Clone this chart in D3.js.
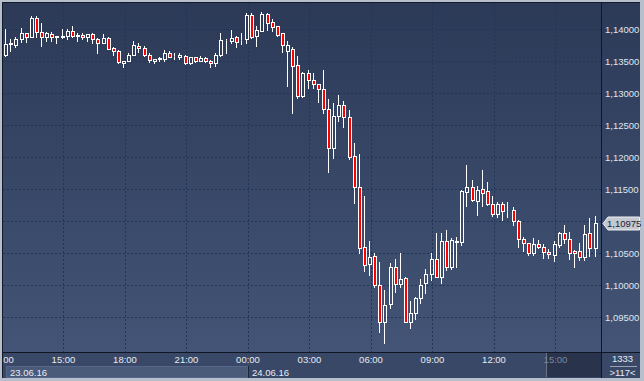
<!DOCTYPE html>
<html><head><meta charset="utf-8">
<script src="https://cdn.jsdelivr.net/npm/d3@7"></script>
<style>html,body{margin:0;padding:0;background:#2e3b57;overflow:hidden}svg{display:block}</style>
</head><body><svg id="c" width="644" height="381"></svg>
<script>
// ---------- data ----------
const startTime = "2016-06-23T12:00:00Z";   // first M15 bar
const barMinutes = 15;
const opens = [1.13492,1.13602,1.13773,1.13758,1.13852,1.13945,1.13883,1.14180,1.13961,1.13883,
1.13930,1.13883,1.13883,1.13898,1.13977,1.13898,1.13914,1.13883,1.13930,1.13852,
1.13789,1.13867,1.13711,1.13664,1.13477,1.13508,1.13602,1.13742,1.13711,1.13602,
1.13508,1.13539,1.13539,1.13633,1.13586,1.13570,1.13586,1.13477,1.13570,1.13508,
1.13555,1.13508,1.13477,1.13602,1.13836,1.13820,1.13883,1.13836,1.13852,1.14227,
1.13898,1.13977,1.14242,1.14117,1.14055,1.13945,1.13664,1.13695,1.13445,1.12961,
1.13320,1.13211,1.13148,1.13070,1.12758,1.12148,1.12648,1.12820,1.12633,1.12023,
1.11539,1.10602,1.10336,1.10461,1.10008,1.09430,1.09711,1.10289,1.10023,1.10117,
1.09430,1.09570,1.09805,1.10039,1.10180,1.10414,1.10133,1.10695,1.10289,1.10695,
1.10680,1.11461,1.11539,1.11320,1.11508,1.11477,1.11273,1.11117,1.11273,1.11164,
1.11180,1.11008,1.10727,1.10664,1.10508,1.10648,1.10602,1.10523,1.10477,1.10633,
1.10820,1.10727,1.10539,1.10539,1.10445,1.10820,1.10586];
const highs = [1.13617,1.14008,1.13852,1.13883,1.14023,1.13945,1.14211,1.14211,1.14102,1.13961,
1.13961,1.13898,1.14008,1.14008,1.14055,1.13945,1.13945,1.13930,1.13945,1.13867,
1.13930,1.13883,1.13727,1.13680,1.13508,1.13633,1.13820,1.13789,1.13742,1.13633,
1.13539,1.13570,1.13680,1.13664,1.13633,1.13633,1.13602,1.13570,1.13570,1.13586,
1.13570,1.13523,1.13633,1.13945,1.13852,1.13992,1.13898,1.13945,1.14258,1.14258,
1.14055,1.14273,1.14258,1.14164,1.14055,1.13945,1.13820,1.13727,1.13586,1.13336,
1.13367,1.13320,1.13148,1.13367,1.12914,1.12852,1.12977,1.12883,1.12742,1.12227,
1.12055,1.11398,1.10695,1.10508,1.10367,1.09930,1.10352,1.10414,1.10508,1.10133,
1.09758,1.09820,1.10102,1.10258,1.10508,1.10820,1.10820,1.10867,1.10742,1.10758,
1.11492,1.11883,1.11648,1.11555,1.11805,1.11617,1.11398,1.11305,1.11305,1.11305,
1.11227,1.11023,1.10758,1.10664,1.10742,1.10711,1.10648,1.10570,1.10695,1.10836,
1.10945,1.10836,1.10555,1.10664,1.10945,1.11055,1.11086];
const lows = [1.13477,1.13586,1.13664,1.13727,1.13805,1.13805,1.13883,1.13883,1.13742,1.13820,
1.13820,1.13789,1.13867,1.13852,1.13883,1.13820,1.13852,1.13820,1.13789,1.13633,
1.13789,1.13695,1.13602,1.13477,1.13414,1.13508,1.13602,1.13648,1.13586,1.13492,
1.13477,1.13508,1.13508,1.13570,1.13539,1.13539,1.13461,1.13461,1.13492,1.13508,
1.13492,1.13414,1.13430,1.13586,1.13633,1.13789,1.13727,1.13773,1.13789,1.13867,
1.13742,1.13977,1.13992,1.13977,1.13898,1.13648,1.13117,1.12695,1.12930,1.12945,
1.13086,1.13086,1.12867,1.12695,1.11773,1.11992,1.12570,1.12477,1.11977,1.11289,
1.10508,1.10227,1.10164,1.09977,1.09273,1.09102,1.09648,1.09898,1.09977,1.09430,
1.09336,1.09477,1.09727,1.09883,1.10086,1.10133,1.10039,1.10242,1.10258,1.10289,
1.10633,1.11242,1.11320,1.11102,1.11242,1.11258,1.11086,1.11070,1.11023,1.11070,
1.10945,1.10602,1.10539,1.10477,1.10477,1.10586,1.10430,1.10430,1.10383,1.10602,
1.10664,1.10414,1.10289,1.10398,1.10398,1.10461,1.10461];
const closes = [1.13602,1.13773,1.13789,1.13852,1.13945,1.13883,1.14180,1.13961,1.13883,1.13945,
1.13883,1.13898,1.13898,1.13977,1.13898,1.13914,1.13883,1.13930,1.13852,1.13789,
1.13867,1.13695,1.13664,1.13492,1.13508,1.13602,1.13758,1.13711,1.13602,1.13523,
1.13539,1.13555,1.13633,1.13570,1.13586,1.13602,1.13477,1.13570,1.13508,1.13555,
1.13508,1.13477,1.13602,1.13836,1.13836,1.13867,1.13805,1.13836,1.14227,1.13883,
1.13992,1.14242,1.14102,1.14039,1.13914,1.13758,1.13758,1.13430,1.12961,1.13320,
1.13211,1.13148,1.13070,1.12758,1.12148,1.12648,1.12820,1.12633,1.12008,1.11539,
1.10586,1.10320,1.10445,1.10008,1.09430,1.09695,1.10289,1.10023,1.10102,1.09430,
1.09570,1.09805,1.10008,1.10180,1.10414,1.10133,1.10695,1.10289,1.10711,1.10672,
1.11477,1.11539,1.11336,1.11492,1.11445,1.11273,1.11117,1.11273,1.11164,1.11164,
1.11008,1.10727,1.10664,1.10508,1.10648,1.10602,1.10523,1.10492,1.10648,1.10820,
1.10727,1.10508,1.10508,1.10445,1.10805,1.10586,1.10975];
const priceTicks = [1.095,1.100,1.105,1.110,1.115,1.120,1.125,1.130,1.135,1.140];
const lastPrice = 1.10975;
const footerTop = "1333";
const footerBottom = ">117<";

// ---------- layout ----------
const W = 644, H = 381;
const P = {l:3, t:3, r:601, b:352};     // plot area
const axisRight = 640, axisBottom = 378;
const FONT = "'Liberation Sans', Arial, sans-serif";

const t0 = new Date(startTime);
const times = opens.map((_, i) => new Date(t0.getTime() + i * barMinutes * 60000));
const data = opens.map((o, i) => ({t: times[i], o, h: highs[i], l: lows[i], c: closes[i]}));

const x = d3.scaleUtc().domain([times[0], times[times.length - 1]]).range([1.5, 596]);
const y = d3.scaleLinear().domain([1.14, 1.095]).range([29.5, 317.5]);

const svg = d3.select("#c");
const defs = svg.append("defs");
const grad = defs.append("linearGradient").attr("id", "bg").attr("x1", 0).attr("y1", 0).attr("x2", 0).attr("y2", 1);
grad.append("stop").attr("offset", "0%").attr("stop-color", "#2c3a57");
grad.append("stop").attr("offset", "100%").attr("stop-color", "#435476");
defs.append("clipPath").attr("id", "plotClip").append("rect")
  .attr("x", P.l).attr("y", P.t).attr("width", P.r - P.l).attr("height", P.b - P.t);
defs.append("clipPath").attr("id", "timeClip").append("rect")
  .attr("x", P.l).attr("y", P.b).attr("width", P.r - P.l).attr("height", axisBottom - P.b);

// outer frame
svg.append("rect").attr("width", W).attr("height", H).attr("fill", "#b7bfcc");
svg.append("rect").attr("x", 2).attr("y", 2).attr("width", axisRight - 2).attr("height", axisBottom - 2).attr("fill", "#131b2b");
// plot + price axis background
svg.append("rect").attr("x", P.l).attr("y", P.t).attr("width", axisRight - P.l).attr("height", P.b - P.t).attr("fill", "url(#bg)");
// time axis strip
svg.append("rect").attr("x", P.l).attr("y", P.b + 1).attr("width", axisRight - P.l).attr("height", axisBottom - P.b - 1).attr("fill", "#3a4867");

// grid
const grid = svg.append("g").attr("clip-path", "url(#plotClip)");
const hourTicks = x.ticks(d3.utcHour.every(3));
grid.selectAll("line.v").data(hourTicks).join("line")
  .attr("x1", d => Math.round(x(d)) + 0.5).attr("x2", d => Math.round(x(d)) + 0.5)
  .attr("y1", P.t).attr("y2", P.b)
  .attr("stroke", "#203659").attr("stroke-dasharray", "2,2");
grid.selectAll("line.h").data(priceTicks).join("line")
  .attr("x1", P.l).attr("x2", P.r)
  .attr("y1", d => Math.round(y(d) - 0.5) + 0.5).attr("y2", d => Math.round(y(d) - 0.5) + 0.5)
  .attr("stroke", "#203659").attr("stroke-dasharray", "2,2");

// candles
const cg = svg.append("g").attr("clip-path", "url(#plotClip)");
data.forEach(d => {
  const c = Math.floor(x(d.t));
  const wx = c - 0.5;
  const yH = Math.round(y(d.h)), yL = Math.round(y(d.l));
  const yT = Math.round(y(Math.max(d.o, d.c))) + 0.5;
  const yB = Math.round(y(Math.min(d.o, d.c))) + 0.5;
  const up = d.c >= d.o;
  if (yH < yT) cg.append("line").attr("x1", wx).attr("x2", wx).attr("y1", yH).attr("y2", yT).attr("stroke", "#fff");
  if (yL + 1 > yB) cg.append("line").attr("x1", wx).attr("x2", wx).attr("y1", yB).attr("y2", yL + 1).attr("stroke", "#fff");
  cg.append("rect").attr("x", c - 1.5).attr("y", yT).attr("width", 3).attr("height", Math.max(0, yB - yT))
    .attr("fill", up ? "none" : "#ff0000").attr("stroke", "#fff").attr("stroke-width", 1);
});

// separators
svg.append("line").attr("x1", P.r + 0.5).attr("x2", P.r + 0.5).attr("y1", 2).attr("y2", axisBottom).attr("stroke", "#0f1727");
svg.append("line").attr("x1", 2).attr("x2", axisRight).attr("y1", P.b + 0.5).attr("y2", P.b + 0.5).attr("stroke", "#0f1727");

// price axis (the tick hidden behind the current-price tag is not labelled)
const yl = Math.round(y(lastPrice)) + 0.5;
const labelTicks = priceTicks.filter(v => Math.abs(y(v) - yl) > 9);
const yAxis = svg.append("g").attr("transform", `translate(${P.r},0)`)
  .call(d3.axisRight(y).tickValues(labelTicks).tickSize(0).tickPadding(4)
    .tickFormat(d => d3.format(".5f")(d).replace(".", ",")));
yAxis.select(".domain").remove();
yAxis.selectAll("text").attr("fill", "#dfe6f0").style("font-family", FONT).style("font-size", "9.5px").attr("dy", "0.34em");

// current price label
const pl = svg.append("g");
pl.append("path")
  .attr("d", `M${P.r + 2},${yl} L${P.r + 7},${yl - 6.5} L${axisRight - 0.5},${yl - 6.5} L${axisRight - 0.5},${yl + 6.5} L${P.r + 7},${yl + 6.5} Z`)
  .attr("fill", "#c4c8cf").attr("stroke", "#eef0f3").attr("stroke-width", 1);
pl.append("text").attr("x", P.r + 6).attr("y", yl).attr("dy", "0.34em")
  .attr("fill", "#1b2233").style("font-family", FONT).style("font-size", "9.5px")
  .text(d3.format(".5f")(lastPrice).replace(".", ","));

// time axis
const tg = svg.append("g").attr("clip-path", "url(#timeClip)");
const days = d3.utcDay.range(d3.utcDay.floor(times[0]), times[times.length - 1]);
days.forEach((dd, i) => {
  const xs = Math.max(6, Math.round(x(dd)));
  const xe = i + 1 < days.length ? Math.round(x(days[i + 1])) : null;
  if (xe !== null) {
    tg.append("rect").attr("x", xs + 0.5).attr("y", 366.5).attr("width", xe - xs - 0.5).attr("height", 11)
      .attr("fill", "#4a5a79").attr("stroke", "#56668a");
  } else {
    tg.append("line").attr("x1", xs + 0.5).attr("x2", xs + 0.5).attr("y1", 366).attr("y2", axisBottom)
      .attr("stroke", "#1c2539");
  }
  tg.append("text").attr("x", xs + 4).attr("y", 375.5).attr("fill", "#e6ebf3")
    .style("font-family", FONT).style("font-size", "9.5px").text(d3.utcFormat("%d.%m.%y")(dd));
});
// shifted (future) zone
tg.append("rect").attr("x", 546).attr("y", P.b + 1).attr("width", P.r - 546).attr("height", axisBottom - P.b - 2)
  .attr("fill", "#232c42").attr("fill-opacity", 0.72);
tg.append("line").attr("x1", 546.5).attr("x2", 546.5).attr("y1", P.b + 1).attr("y2", axisBottom - 1).attr("stroke", "#6b7487");
const xAxis = tg.append("g").attr("transform", `translate(0,${P.b})`)
  .call(d3.axisBottom(x).ticks(d3.utcHour.every(3)).tickFormat(d3.utcFormat("%H:%M")).tickSize(0).tickPadding(4));
xAxis.select(".domain").remove();
xAxis.selectAll("text").attr("fill", d => x(d) > 546 ? "#7d879a" : "#e6ebf3")
  .style("font-family", FONT).style("font-size", "9.5px");

// footer box
const fx = (P.r + axisRight) / 2 + 2;
svg.append("text").attr("x", fx).attr("y", 362).attr("text-anchor", "middle").attr("fill", "#e6ebf3")
  .style("font-family", FONT).style("font-size", "9.5px").text(footerTop);
svg.append("line").attr("x1", 610).attr("x2", 637).attr("y1", 366.5).attr("y2", 366.5).attr("stroke", "#9aa3b3");
svg.append("text").attr("x", fx).attr("y", 376).attr("text-anchor", "middle").attr("fill", "#e6ebf3")
  .style("font-family", FONT).style("font-size", "9.5px").text(footerBottom);
</script></body></html>
